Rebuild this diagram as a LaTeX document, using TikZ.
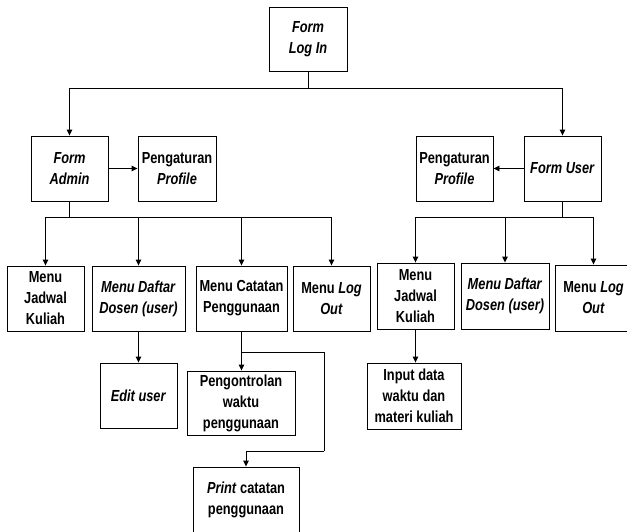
\documentclass[tikz,border=0pt]{standalone}
\usepackage{fontspec}
\setmainfont{Liberation Sans}[FakeStretch=0.8]
\usetikzlibrary{arrows.meta}
\tikzset{
  box/.style={draw, line width=0.9pt, align=center, inner sep=0pt,
    font=\bfseries\fontsize{16}{21}\selectfont},
  sz/.style 2 args={minimum width=#1pt, minimum height=#2pt},
  conn/.style={line width=0.9pt},
  arr/.style={conn, -{Triangle[width=5.5pt,length=6pt]}}
}
\begin{document}
\begin{tikzpicture}[x=1pt,y=-1pt]
\useasboundingbox (0,0) rectangle (627,531);
\clip (0,0) rectangle (627,531);
% nodes
\node[box, sz={78}{64}] (login) at (308,39) {\textit{Form}\\\textit{Log In}};
\node[box, sz={77}{65}] (fadmin) at (69.5,168.5) {\textit{Form}\\\textit{Admin}};
\node[box, sz={78}{65}] (prof1) at (177,168.5) {Pengaturan\\\textit{Profile}};
\node[box, sz={77}{65}] (prof2) at (454.5,168.5) {Pengaturan\\\textit{Profile}};
\node[box, sz={77}{65}] (fuser) at (562.5,168.5) {\textit{Form User}};
\node[box, sz={77}{65}] (mj1) at (45.5,298.5) {Menu\\Jadwal\\Kuliah};
\node[box, sz={93}{65}] (md1) at (138.5,298.5) {\textit{Menu Daftar}\\\textit{Dosen (user)}};
\node[box, sz={91}{65}] (mc) at (241.5,298.5) {Menu Catatan\\Penggunaan};
\node[box, sz={77}{65}] (ml1) at (331.5,298.5) {Menu \textit{Log}\\\textit{Out}};
\node[box, sz={77}{66}] (mj2) at (415.5,296) {Menu\\Jadwal\\Kuliah};
\node[box, sz={88}{66}] (md2) at (505,296) {\textit{Menu Daftar}\\\textit{Dosen (user)}};
\node[box, sz={77}{66}] (ml2) at (593.5,298) {Menu \textit{Log}\\\textit{Out}};
\node[box, sz={77}{65}] (edit) at (138.5,395.5) {\textit{Edit user}};
\node[box, sz={108}{64}] (pengon) at (241,403) {Pengontrolan\\waktu\\penggunaan};
\node[box, sz={94}{66}] (input) at (414,396) {Input data\\waktu dan\\materi kuliah};
\node[box, sz={106}{66}] (print) at (246,500) {\textit{Print} catatan\\penggunaan};
% junctions
\coordinate (j1) at (308,88);
\coordinate (ja) at (69.5,217);
\coordinate (ju) at (562.5,217);
\coordinate (jc) at (241.5,352);
\coordinate (jc2) at (324,352);
\coordinate (jc3) at (324,451);
% connectors
\draw[conn] (login.south) -- (j1);
\draw[arr] (j1) -| (fadmin.north);
\draw[arr] (j1) -| (fuser.north);
\draw[arr] (fadmin.east) -- (prof1.west);
\draw[arr] (fuser.west) -- (prof2.east);
\draw[conn] (fadmin.south) -- (ja);
\draw[arr] (ja) -| (mj1.north);
\draw[arr] (ja) -| (md1.north);
\draw[arr] (ja) -| (mc.north);
\draw[arr] (ja) -| (ml1.north);
\draw[conn] (fuser.south) -- (ju);
\draw[arr] (ju) -| (mj2.north);
\draw[arr] (ju) -| (md2.north);
\draw[arr] (ju) -| (ml2.north);
\draw[arr] (md1.south) -- (edit.north);
\draw[arr] (mc.south) -- (mc.south |- pengon.north);
\draw[conn] (jc) -- (jc2) -- (jc3);
\draw[arr] (jc3) -| (print.north);
\draw[arr] (mj2.south) -- (mj2.south |- input.north);
\end{tikzpicture}
\end{document}
